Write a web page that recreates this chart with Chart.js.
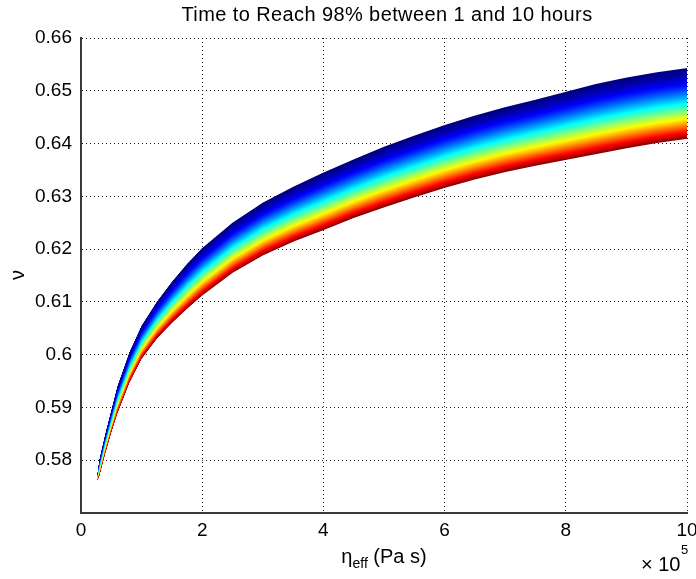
<!DOCTYPE html>
<html>
<head>
<meta charset="utf-8">
<script src="https://cdn.jsdelivr.net/npm/chart.js@4.4.1/dist/chart.umd.min.js"></script>
<style>
  html, body { margin: 0; padding: 0; background: #fff; }
  canvas { display: block; }
</style>
</head>
<body>
<canvas id="chart" width="696" height="579"></canvas>
<script>
// Effective viscosity, in units of 10^5 Pa s
const etaEff = [0.27, 0.3, 0.4, 0.5, 0.6, 0.8, 1.0, 1.25, 1.5, 1.75, 2.0, 2.5, 3.0, 3.5,
                4.0, 4.5, 5.0, 5.5, 6.0, 6.5, 7.0, 7.5, 8.0, 8.5, 9.0, 9.5, 10.0];
// nu that reaches 98% after 1 hour (upper, blue edge of the band)
const nuOneHour = [0.5775, 0.5800, 0.5850, 0.5895, 0.5940, 0.6005, 0.6055, 0.6100, 0.6138,
                   0.6172, 0.6202, 0.6250, 0.6288, 0.6318, 0.6345, 0.6370, 0.6394, 0.6415,
                   0.6435, 0.6453, 0.6469, 0.6483, 0.6498, 0.6513, 0.6525, 0.6535, 0.6543];
// nu that reaches 98% after 10 hours (lower, red edge of the band)
const nuTenHours = [0.5762, 0.5768, 0.5812, 0.5852, 0.5888, 0.5947, 0.5992, 0.6030, 0.6060,
                    0.6087, 0.6112, 0.6155, 0.6188, 0.6214, 0.6236, 0.6259, 0.6279, 0.6298,
                    0.6316, 0.6332, 0.6346, 0.6358, 0.6369, 0.6380, 0.6391, 0.6401, 0.6409];

const xTickValues = [0, 2, 4, 6, 8, 10];
const yTickValues = [0.58, 0.59, 0.60, 0.61, 0.62, 0.63, 0.64, 0.65, 0.66];
const yTickLabels = ['0.58', '0.59', '0.6', '0.61', '0.62', '0.63', '0.64', '0.65', '0.66'];

const titleText = 'Time to Reach 98% between 1 and 10 hours';

const FONT = '"Liberation Sans", Arial, Helvetica, sans-serif';

// jet colour map, t in [0, 1]
function jet(t) {
  const c = v => Math.round(255 * Math.max(0, Math.min(1, v)));
  return 'rgb(' + c(1.5 - Math.abs(4 * t - 3)) + ',' + c(1.5 - Math.abs(4 * t - 2)) + ',' + c(1.5 - Math.abs(4 * t - 1)) + ')';
}
const STOP_COUNT = 32;
const jetStops = [];
for (let k = 0; k <= STOP_COUNT; k++) {
  const s = k / STOP_COUNT;
  jetStops.push([s, jet(Math.pow(s, 1.4))]);
}

// Fills the region between the 1 h and 10 h curves with a jet gradient, one pixel column at a time
const jetBand = {
  id: 'jetBand',
  beforeDatasetsDraw(chart) {
    const top = chart.getDatasetMeta(0).data;
    const bot = chart.getDatasetMeta(1).data;
    const ctx = chart.ctx;
    const area = chart.chartArea;
    ctx.save();
    ctx.beginPath();
    ctx.rect(area.left, area.top, area.right - area.left, area.bottom - area.top);
    ctx.clip();
    let seg = 0;
    const xStart = Math.floor(top[0].x);
    const xEnd = Math.ceil(top[top.length - 1].x);
    for (let px = xStart; px < xEnd; px++) {
      const xc = Math.min(Math.max(px + 0.5, top[0].x), top[top.length - 1].x);
      while (seg < top.length - 2 && xc > top[seg + 1].x) seg++;
      const f = (xc - top[seg].x) / (top[seg + 1].x - top[seg].x);
      const yt = top[seg].y + (top[seg + 1].y - top[seg].y) * f;
      const yb = bot[seg].y + (bot[seg + 1].y - bot[seg].y) * f;
      const g = ctx.createLinearGradient(0, yt, 0, yb);
      jetStops.forEach(([s, col]) => g.addColorStop(s, col));
      ctx.fillStyle = g;
      ctx.fillRect(px, yt, 1, yb - yt);
    }
    ctx.restore();
  }
};

// Title, axis labels and the x-axis multiplier
const annotations = {
  id: 'annotations',
  afterDraw(chart) {
    const ctx = chart.ctx;
    const area = chart.chartArea;
    const cx = (area.left + area.right) / 2;
    ctx.save();
    ctx.fillStyle = '#000';
    ctx.textBaseline = 'alphabetic';

    // title
    ctx.font = '20px ' + FONT;
    ctx.textAlign = 'center';
    if ('letterSpacing' in ctx) ctx.letterSpacing = '0.4px';
    ctx.fillText(titleText, cx + 3, 21);
    if ('letterSpacing' in ctx) ctx.letterSpacing = '0px';

    // x label: eta_eff (Pa s)
    const mainFont = '20px ' + FONT;
    const subFont = '14px ' + FONT;
    ctx.font = mainFont;
    const wEta = ctx.measureText('\u03B7').width;
    const wRest = ctx.measureText(' (Pa s)').width;
    ctx.font = subFont;
    const wSub = ctx.measureText('eff').width;
    let x = cx - (wEta + wSub + wRest) / 2;
    ctx.textAlign = 'left';
    ctx.font = mainFont;
    ctx.fillText('\u03B7', x, 563);
    x += wEta;
    ctx.font = subFont;
    ctx.fillText('eff', x, 568);
    x += wSub;
    ctx.font = mainFont;
    ctx.fillText(' (Pa s)', x, 563);

    // y label: nu, rotated
    ctx.save();
    ctx.translate(24, 275);
    ctx.rotate(-Math.PI / 2);
    ctx.textAlign = 'center';
    ctx.font = '20px ' + FONT;
    ctx.fillText('\u03BD', 0, 0);
    ctx.restore();

    // x10^5 multiplier
    ctx.textAlign = 'left';
    ctx.font = '20px ' + FONT;
    ctx.fillText('\u00D7 10', 641, 571);
    ctx.font = '13px ' + FONT;
    ctx.fillText('5', 681, 554);
    ctx.restore();
  }
};

new Chart(document.getElementById('chart'), {
  type: 'scatter',
  data: {
    datasets: [
      {
        label: '1 hour',
        data: etaEff.map((x, i) => ({ x: x, y: nuOneHour[i] })),
        showLine: false,
        pointRadius: 0,
        pointHoverRadius: 0
      },
      {
        label: '10 hours',
        data: etaEff.map((x, i) => ({ x: x, y: nuTenHours[i] })),
        showLine: false,
        pointRadius: 0,
        pointHoverRadius: 0
      }
    ]
  },
  options: {
    responsive: false,
    animation: false,
    events: [],
    layout: { padding: { left: 0, right: 9, top: 38, bottom: 0 } },
    plugins: {
      legend: { display: false },
      title: { display: false },
      tooltip: { enabled: false }
    },
    scales: {
      x: {
        type: 'linear',
        min: 0,
        max: 10,
        afterBuildTicks: s => { s.ticks = xTickValues.map(v => ({ value: v })); },
        afterFit: s => { s.height = 66; s.paddingLeft = 0; s.paddingRight = 0; },
        ticks: {
          color: '#000',
          font: { family: FONT, size: 19 },
          padding: 6,
          maxRotation: 0,
          callback: v => String(v)
        },
        grid: { color: '#1a1a1a', lineWidth: 1, drawTicks: false },
        border: { display: true, color: '#3a3a3a', width: 2, dash: [1, 3] }
      },
      y: {
        type: 'linear',
        min: 0.57,
        max: 0.66,
        afterBuildTicks: s => { s.ticks = yTickValues.map(v => ({ value: v })); },
        afterFit: s => { s.width = 81; s.paddingTop = 0; s.paddingBottom = 0; },
        ticks: {
          color: '#000',
          font: { family: FONT, size: 19 },
          padding: 9,
          callback: v => {
            const idx = yTickValues.findIndex(t => Math.abs(t - v) < 1e-9);
            return idx >= 0 ? yTickLabels[idx] : '';
          }
        },
        grid: { color: '#1a1a1a', lineWidth: 1, drawTicks: false },
        border: { display: true, color: '#3a3a3a', width: 2, dash: [1, 3] }
      }
    }
  },
  plugins: [jetBand, annotations]
});
</script>
</body>
</html>
